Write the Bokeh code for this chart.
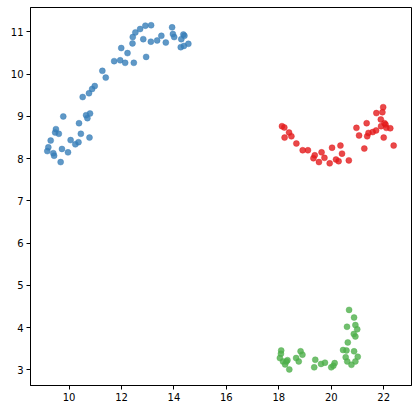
from bokeh.plotting import figure
from bokeh.models import FixedTicker, Range1d
from bokeh.embed import file_html
from bokeh.resources import INLINE

blue_x = [9.17, 9.21, 9.40, 9.43, 9.30, 9.47, 9.50, 9.61, 9.68, 9.73, 9.78, 9.96, 10.06, 10.24, 10.36,
          10.45, 10.38, 10.78, 10.65, 10.70, 10.80, 10.52, 10.76, 10.88, 10.98, 11.27, 11.40, 11.72,
          11.95, 12.14, 11.99, 12.23, 12.47, 12.42, 12.43, 12.53, 12.71, 12.91, 13.13, 12.83, 12.94,
          13.12, 13.36, 13.52, 13.69, 13.93, 13.96, 14.01, 14.28, 14.36, 14.40, 14.26, 14.38, 14.55]
blue_y = [8.18, 8.27, 8.13, 8.07, 8.43, 8.62, 8.70, 8.59, 7.92, 8.23, 9.00, 8.15, 8.44, 8.34, 8.39,
          8.59, 8.84, 8.50, 9.03, 8.96, 9.07, 9.46, 9.55, 9.65, 9.72, 10.08, 9.92, 10.31,
          10.33, 10.27, 10.62, 10.50, 10.27, 10.73, 10.88, 10.99, 11.07, 11.15, 11.16, 10.83, 10.41,
          10.77, 10.80, 10.91, 10.75, 11.11, 10.95, 10.88, 10.83, 10.94, 10.91, 10.64, 10.67, 10.72]

red_x = [18.12, 18.21, 18.39, 18.22, 18.48, 18.67, 18.91, 19.11, 19.37, 19.32, 19.53, 19.63, 19.74,
         19.94, 20.03, 20.18, 20.28, 20.41, 20.35, 20.67, 20.96, 21.06, 21.35, 21.26, 21.37, 21.42,
         21.58, 21.71, 21.72, 21.90, 21.89, 21.95, 21.98, 22.03, 22.07, 22.10, 22.00, 22.25, 22.38]
red_y = [8.77, 8.74, 8.62, 8.50, 8.53, 8.36, 8.20, 8.20, 8.08, 8.01, 7.92, 8.15, 8.02,
         7.89, 8.26, 7.98, 7.94, 8.12, 8.31, 7.96, 8.73, 8.55, 8.84, 8.24, 8.53, 8.61,
         8.63, 8.67, 9.08, 8.77, 8.93, 9.10, 9.22, 8.84, 8.81, 8.73, 8.50, 8.72, 8.31]

green_x = [18.09, 18.08, 18.04, 18.16, 18.24, 18.29, 18.33, 18.40, 18.66, 18.76, 18.83, 18.90, 19.39,
           19.35, 19.61, 19.76, 20.00, 20.08, 20.13, 20.45, 20.58, 20.55, 20.61, 20.68, 20.87, 20.60,
           20.92, 20.99, 20.86, 20.92, 20.63, 20.87, 21.01, 20.92, 20.77]
green_y = [3.46, 3.38, 3.28, 3.20, 3.13, 3.20, 3.23, 3.01, 3.28, 3.20, 3.44, 3.36, 3.24,
           3.06, 3.14, 3.17, 3.06, 3.10, 3.16, 3.47, 3.46, 3.30, 3.20, 4.42, 4.24, 4.02,
           4.06, 3.96, 3.85, 3.79, 3.65, 3.44, 3.31, 3.20, 3.12]

x_ticks = [10, 12, 14, 16, 18, 20, 22]
y_ticks = [3, 4, 5, 6, 7, 8, 9, 10, 11]

p = figure(width=412, height=406, output_backend="svg", toolbar_location=None,
           x_range=Range1d(8.53, 23.06), y_range=Range1d(2.63, 11.58),
           min_border_left=30, min_border_right=1, min_border_top=7, min_border_bottom=21)
p.background_fill_color = "white"
p.border_fill_color = "white"
p.outline_line_color = "black"
p.outline_line_width = 1
p.outline_line_alpha = 1
p.xgrid.visible = False
p.ygrid.visible = False

for xs, ys, c in [(blue_x, blue_y, "#377eb8"), (red_x, red_y, "#e41a1c"), (green_x, green_y, "#4daf4a")]:
    p.scatter(xs, ys, size=6, fill_color=c, line_color=c, fill_alpha=0.8, line_alpha=0.8, line_width=0.5)

p.xaxis.ticker = FixedTicker(ticks=x_ticks)
p.yaxis.ticker = FixedTicker(ticks=y_ticks)
for ax in [p.xaxis[0], p.yaxis[0]]:
    ax.major_label_text_font = "DejaVu Sans"
    ax.major_label_text_font_size = "10px"
    ax.major_label_text_color = "black"
    ax.axis_line_color = "black"
    ax.major_tick_line_color = "black"
    ax.major_tick_out = 4
    ax.major_tick_in = 0
    ax.minor_tick_line_color = None
    ax.major_label_standoff = 3

open("out.html", "w").write(file_html(p, INLINE))
